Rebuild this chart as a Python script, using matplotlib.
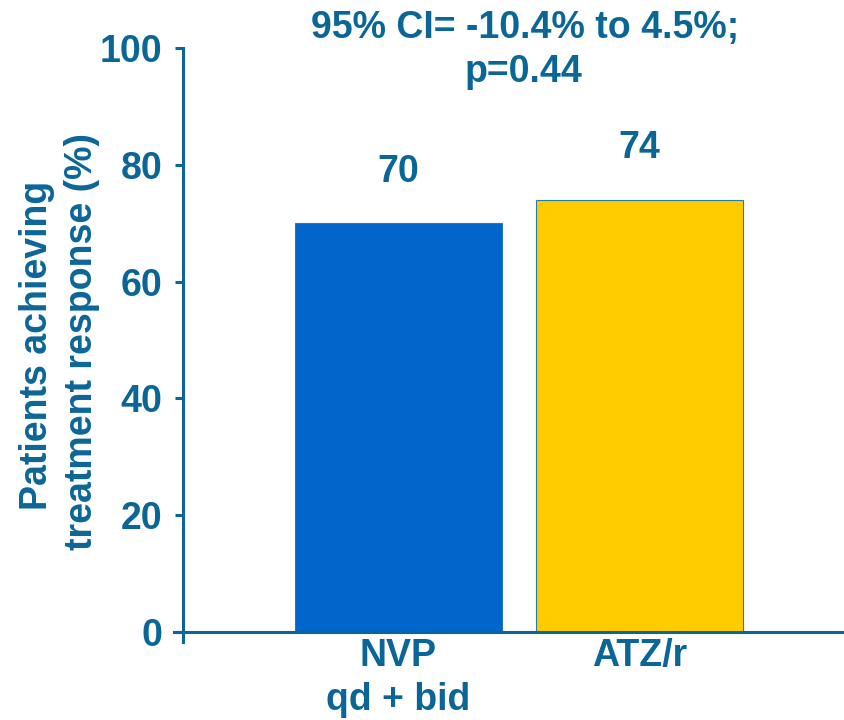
import matplotlib
matplotlib.use("Agg")
import matplotlib.pyplot as plt
from matplotlib.lines import Line2D

categories = ["NVP\nqd + bid", "ATZ/r"]
values = [70, 74]
value_labels = ["70", "74"]
bar_colors = ["#0066CC", "#FFCC00"]
yticks = [0, 20, 40, 60, 80, 100]
title_lines = ["95% CI= -10.4% to 4.5%;", "p=0.44"]
ylabel_lines = ["Patients achieving", "treatment response (%)"]

TEXT = "#0B6698"
FS = 27
W, H = 845, 720
plt.rcParams["font.family"] = ["Liberation Sans", "DejaVu Sans"]
plt.rcParams["font.weight"] = "bold"

fig = plt.figure(figsize=(W / 100, H / 100), dpi=100)
ax = fig.add_axes([183 / W, 78 / H, 1 - 183 / W, (642 - 48) / H])

x = list(range(len(categories)))
ax.bar(x, values, width=0.857, color=bar_colors, edgecolor="#2A7AA8",
       linewidth=0.8, zorder=2)

for xi, v, lab in zip(x, values, value_labels):
    ax.annotate(lab, (xi, v), xytext=(0, 30), textcoords="offset points",
                ha="center", va="baseline", fontsize=FS, fontweight="bold",
                color=TEXT)

ax.set_xlim(-0.892, 1.85)
ax.set_ylim(-1.7, 100)
ax.set_yticks(yticks)
ax.set_yticklabels([str(t) for t in yticks])
ax.set_xticks(x)
ax.set_xticklabels(categories, linespacing=1.3)

for s in ["top", "right", "bottom"]:
    ax.spines[s].set_visible(False)
ax.spines["left"].set_color(TEXT)
ax.spines["left"].set_linewidth(2.2)

ax.tick_params(axis="y", direction="out", length=6, width=2.2, color=TEXT,
               labelsize=FS, labelcolor=TEXT, pad=9)
ax.tick_params(axis="x", length=0, labelsize=FS, labelcolor=TEXT, pad=-3)
for lab in ax.get_yticklabels() + ax.get_xticklabels():
    lab.set_fontweight("bold")

# baseline at zero, reaching out to the tick tips on the left
trans = ax.get_yaxis_transform()
ax.add_line(Line2D([-9 / 662, 1.0], [0, 0], transform=trans, color=TEXT,
                   linewidth=2.2, clip_on=False, zorder=3))

# rotated y-axis title, one line at a time
for (bx, cy), line in zip([(47, 345), (92, 341)], ylabel_lines):
    fig.text(bx / W, 1 - cy / H, line, rotation=90, rotation_mode="anchor",
             ha="center", va="baseline", fontsize=FS, fontweight="bold",
             color=TEXT)

# statistics header above the plot
for (cx, by), line in zip([(525, 38), (523, 82)], title_lines):
    fig.text(cx / W, 1 - by / H, line, ha="center", va="baseline",
             fontsize=FS, fontweight="bold", color=TEXT)

fig.savefig("out.png", dpi=100)
